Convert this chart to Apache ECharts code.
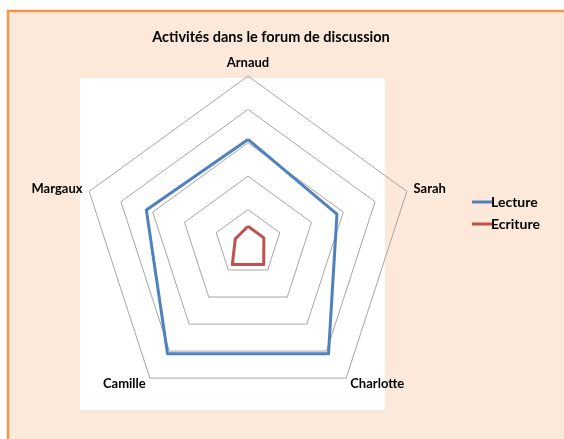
<!DOCTYPE html>
<html>
<head>
<meta charset="utf-8">
<script src="https://cdn.jsdelivr.net/npm/echarts@6/dist/echarts.min.js"></script>
<style>
  html, body { margin: 0; padding: 0; background: #fff; }
  #main { width: 564px; height: 439px; }
</style>
</head>
<body>
<div id="main"></div>
<script>
// participants, dans l'ordre du graphique Excel (sens horaire depuis le haut)
var names = ['Arnaud', 'Sarah', 'Charlotte', 'Camille', 'Margaux'];
var lecture = [31, 28, 41, 41, 32];   // messages lus
var ecriture = [5, 5, 8, 8, 4];       // messages écrits
var scaleMax = 50;

// echarts tourne dans l'autre sens -> on réordonne
var order = [0, 4, 3, 2, 1];
function reorder(arr) {
    return order.map(function (i) { return arr[i]; });
}

var myChart = echarts.init(document.getElementById('main'));

var font = 'Lato, "Open Sans", sans-serif';

var option = {
    backgroundColor: '#ffffff',
    animation: false,
    title: {
        text: 'Activités dans le forum de discussion',
        left: 266,
        top: 25,
        textAlign: 'center',
        textStyle: { fontFamily: font, fontSize: 14.5, fontWeight: 'bold', color: '#000' }
    },
    // fond de la zone du graphique + zone de traçage blanche
    graphic: [
        {
            type: 'rect', z: -10,
            shape: { x: 8, y: 11, width: 570, height: 440 },
            style: { fill: '#FDE9D9', stroke: '#F79646', lineWidth: 2.5 }
        },
        {
            type: 'rect', z: -9,
            shape: { x: 80, y: 78, width: 305, height: 332 },
            style: { fill: '#ffffff' }
        }
    ],
    legend: {
        orient: 'vertical',
        left: 467,
        top: 190,
        itemWidth: 22,
        itemHeight: 3,
        itemGap: 8,
        icon: 'rect',
        textStyle: { fontFamily: font, fontSize: 14, fontWeight: 'bold', color: '#000', padding: [0, 0, 0, -8] },
        data: ['Lecture', 'Ecriture']
    },
    radar: {
        center: [248, 243],
        radius: 167,
        startAngle: 90,
        splitNumber: 5,
        shape: 'polygon',
        nameGap: 7,
        axisName: { color: '#000', fontFamily: font, fontSize: 13, fontWeight: 'bold' },
        splitLine: { lineStyle: { color: '#A6A6A6', width: 1 } },
        splitArea: { show: false },
        axisLine: { show: false },
        axisTick: { show: false },
        indicator: reorder(names).map(function (n) { return { name: n, min: 0, max: scaleMax }; })
    },
    series: [{
        type: 'radar',
        symbol: 'none',
        data: [
            {
                name: 'Lecture',
                value: reorder(lecture),
                lineStyle: { color: '#4F81BD', width: 3 },
                itemStyle: { color: '#4F81BD' }
            },
            {
                name: 'Ecriture',
                value: reorder(ecriture),
                lineStyle: { color: '#C0504D', width: 3 },
                itemStyle: { color: '#C0504D' }
            }
        ]
    }]
};

myChart.setOption(option, true);
</script>
</body>
</html>
